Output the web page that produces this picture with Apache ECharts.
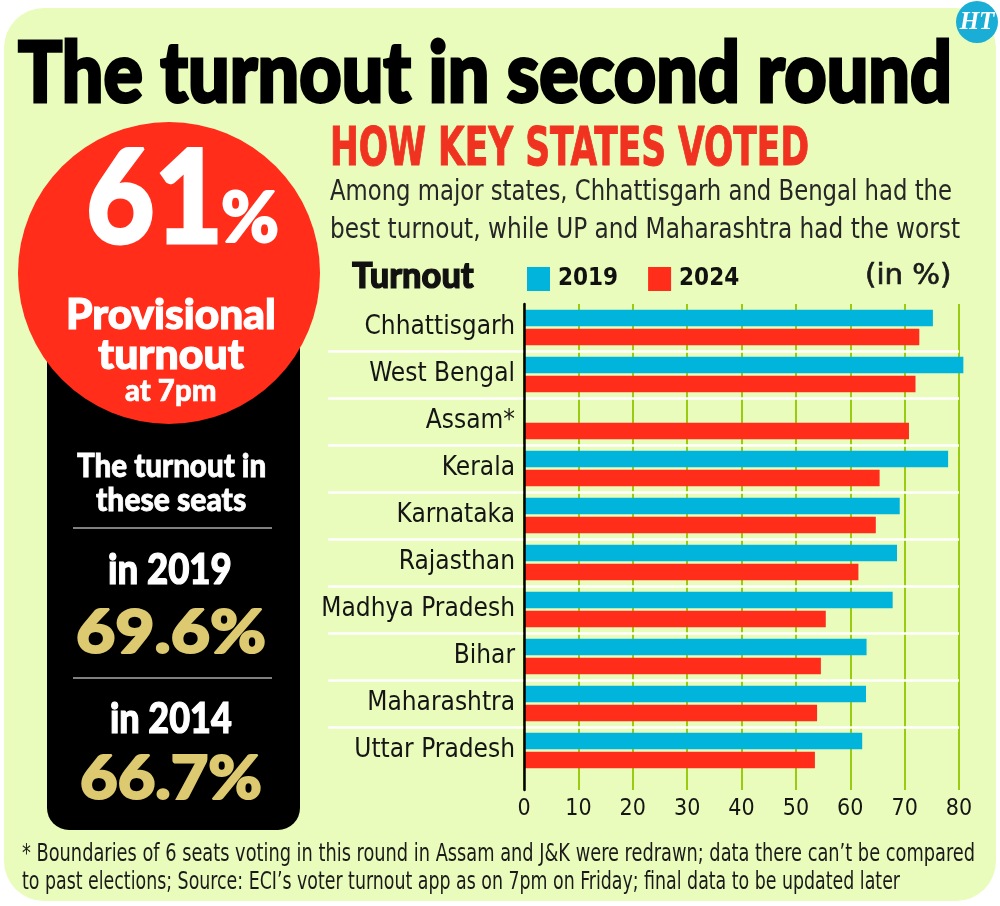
<!DOCTYPE html>
<html>
<head>
<meta charset="utf-8">
<script src="https://cdn.jsdelivr.net/npm/echarts@6/dist/echarts.min.js"></script>
<style>
  html, body { margin: 0; padding: 0; background: #ffffff; }
  #chart { width: 1000px; height: 906px; }
</style>
</head>
<body>
<div id="chart"></div>
<script>
// ---------- DATA ----------
const categories = ['Chhattisgarh', 'West Bengal', 'Assam*', 'Kerala', 'Karnataka', 'Rajasthan', 'Madhya Pradesh', 'Bihar', 'Maharashtra', 'Uttar Pradesh'];
const turnout2019 = [75.2, 80.8, null, 78.0, 69.1, 68.6, 67.8, 63.0, 62.9, 62.2];
const turnout2024 = [72.7, 72.0, 70.8, 65.4, 64.7, 61.5, 55.5, 54.6, 53.9, 53.5];
const seriesNames = ['2019', '2024'];
const axisMin = 0, axisMax = 80, axisStep = 10;

const headline = 'The turnout in second round';
const bigNumber = '61';
const provisionalLines = ['Provisional', 'turnout', 'at 7pm'];
const seatsLines = ['The turnout in', 'these seats'];
const pastLabels = ['in 2019', 'in 2014'];
const pastValues = ['69.6%', '66.7%'];
const subTitle = 'HOW KEY STATES VOTED';
const subLines = ['Among major states, Chhattisgarh and Bengal had the', 'best turnout, while UP and Maharashtra had the worst'];
const footLines = ['* Boundaries of 6 seats voting in this round in Assam and J&K were redrawn; data there can\u2019t be compared',
                   'to past elections; Source: ECI\u2019s voter turnout app as on 7pm on Friday; final data to be updated later'];

// ---------- STYLE ----------
const BLUE = '#00b4dc', RED = '#ff2d19', BG = '#eafcbc', GREEN = '#99cc11', INK = '#151515', GOLD = '#ddc970';

const cv = document.createElement('canvas').getContext('2d');
function has(f) {
  cv.font = '40px ' + f + ', monospace'; const a = cv.measureText('abcdefghijklmnopqrstuvwxyz0123').width;
  cv.font = '40px monospace'; const b = cv.measureText('abcdefghijklmnopqrstuvwxyz0123').width;
  return Math.abs(a - b) > 0.5;
}
const CF = has("'Liberation Sans Narrow'") ? "'Liberation Sans Narrow'" : (has("'DejaVu Sans Condensed'") ? "'DejaVu Sans Condensed'" : "Roboto");
const HF = has("Lato") ? "Lato" : "'DejaVu Sans'";

function fit(text, x, baseline, w, size, weight, family, color, heavy) {
  cv.font = weight + ' ' + size + 'px ' + family;
  const m = cv.measureText(text).width;
  const style = { text: text, fontSize: size, fontWeight: weight, fontFamily: family, fill: color,
                  textAlign: 'left', textVerticalAlign: 'middle', align: 'left', verticalAlign: 'middle' };
  if (heavy) { style.stroke = color; style.lineWidth = heavy; style.lineJoin = 'round'; }
  return { type: 'text', x: x, y: baseline - 0.3 * size, scaleX: (w - (heavy || 0)) / m, z: 10, style: style };
}

const graphics = [
  { type: 'rect', z: -100, shape: { x: 4, y: 8, width: 992, height: 893, r: 40 }, style: { fill: BG } },
  { type: 'rect', z: 1, shape: { x: 47, y: 300, width: 253, height: 530, r: 22 }, style: { fill: '#000000' } },
  { type: 'circle', z: 2, shape: { cx: 169, cy: 273, r: 151 }, style: { fill: RED } },
  { type: 'circle', z: 2, shape: { cx: 977, cy: 22, r: 21 }, style: { fill: '#1aaed6' } },
  { type: 'text', z: 10, x: 977, y: 23, style: { text: 'HT', fontSize: 25, fontStyle: 'italic', fontWeight: 'bold', fontFamily: "'Liberation Serif', serif", fill: '#fff', textAlign: 'center', textVerticalAlign: 'middle', align: 'center', verticalAlign: 'middle' } },
  fit(headline, 18, 100, 937, 84, 900, HF, '#000', 3),
  fit(bigNumber, 86, 240, 140, 129, 900, HF, '#fff', 3),
  fit('%', 221, 240, 60, 70, 900, HF, '#fff', 2),
  fit(provisionalLines[0], 66, 328, 211, 42, 900, HF, '#fff', 1.2),
  fit(provisionalLines[1], 98, 368, 147, 42, 900, HF, '#fff', 1.2),
  fit(provisionalLines[2], 125, 400, 92, 30, 900, HF, '#fff', 0.6),
  fit(seatsLines[0], 77, 476, 190, 32, 900, HF, '#fff', 0.8),
  fit(seatsLines[1], 96, 510, 151, 32, 900, HF, '#fff', 0.8),
  { type: 'line', z: 5, shape: { x1: 73, y1: 528, x2: 272, y2: 528 }, style: { stroke: '#ffffff', lineWidth: 1 } },
  fit(pastLabels[0], 108, 583, 125, 42, 900, HF, '#fff', 1.2),
  fit(pastValues[0], 76, 652, 192, 60, 900, HF, GOLD, 2),
  { type: 'line', z: 5, shape: { x1: 73, y1: 678, x2: 272, y2: 678 }, style: { stroke: '#ffffff', lineWidth: 1 } },
  fit(pastLabels[1], 110, 732, 123, 42, 900, HF, '#fff', 1.2),
  fit(pastValues[1], 80, 798, 184, 60, 900, HF, GOLD, 2),
  fit(subTitle, 330, 167, 480, 54, 'bold', CF, '#f03220', 1),
  fit(subLines[0], 330, 201, 622, 28, 'normal', CF, '#262626'),
  fit(subLines[1], 330, 239, 630, 28, 'normal', CF, '#262626'),
  fit('Turnout', 352, 287, 123, 36, 900, HF, '#111', 1.2),
  fit('(in %)', 865, 285, 87, 28, 'normal', CF, '#1a1a1a', 0.6),
  fit(footLines[0], 22, 862, 953, 24, 'normal', CF, '#1a1a1a'),
  fit(footLines[1], 22, 890, 878, 24, 'normal', CF, '#1a1a1a')
];

const chart = echarts.init(document.getElementById('chart'), null, { renderer: 'canvas' });
chart.setOption({
  animation: false,
  backgroundColor: '#ffffff',
  graphic: { elements: graphics },
  legend: {
    data: seriesNames, left: 522, top: 262, icon: 'rect', itemWidth: 23, itemHeight: 24, itemGap: 30,
    selectedMode: false,
    textStyle: { fontSize: 24, fontWeight: 'bold', fontFamily: CF, color: '#111', padding: [0, 0, 0, 3] }
  },
  grid: [
    { left: 524, top: 304, width: 435, height: 470, outerBoundsMode: 'none' },
    { left: 328, top: 304, width: 631, height: 470, outerBoundsMode: 'none' },
    { left: 524, top: 304, width: 435, height: 486, outerBoundsMode: 'none' }
  ],
  xAxis: [
    { type: 'value', gridIndex: 0, min: axisMin, max: axisMax, interval: axisStep, show: false },
    { type: 'value', gridIndex: 1, min: 0, max: 1, show: false },
    { type: 'value', gridIndex: 2, min: axisMin, max: axisMax, interval: axisStep, z: 0,
      axisLine: { show: false }, axisTick: { show: false },
      axisLabel: { fontSize: 23, fontFamily: CF, color: INK, margin: 8 },
      splitLine: { show: true, lineStyle: { color: GREEN, width: 2 } } }
  ],
  yAxis: [
    { type: 'category', gridIndex: 0, data: categories, inverse: true,
      axisLine: { show: false }, axisTick: { show: false }, splitLine: { show: false },
      axisLabel: { fontSize: 26, fontFamily: CF, color: INK, margin: 9 } },
    { type: 'category', gridIndex: 1, data: categories, inverse: true, z: 1,
      axisLine: { show: false }, axisTick: { show: false }, axisLabel: { show: false },
      splitLine: { show: true, showMinLine: false, showMaxLine: false, lineStyle: { color: '#ffffff', width: 2.5 } } },
    { type: 'value', gridIndex: 2, min: 0, max: 1, z: 5,
      axisLine: { show: true, onZero: false, lineStyle: { color: '#000000', width: 2.5 } },
      axisTick: { show: false }, axisLabel: { show: false }, splitLine: { show: false } }
  ],
  series: [
    { name: seriesNames[0], type: 'bar', xAxisIndex: 0, yAxisIndex: 0, data: turnout2019, clip: false,
      itemStyle: { color: BLUE }, barWidth: 16.5, barGap: '14%', z: 3 },
    { name: seriesNames[1], type: 'bar', xAxisIndex: 0, yAxisIndex: 0, data: turnout2024, clip: false,
      itemStyle: { color: RED }, barWidth: 16.5, barGap: '14%', z: 3 }
  ]
});
</script>
</body>
</html>
